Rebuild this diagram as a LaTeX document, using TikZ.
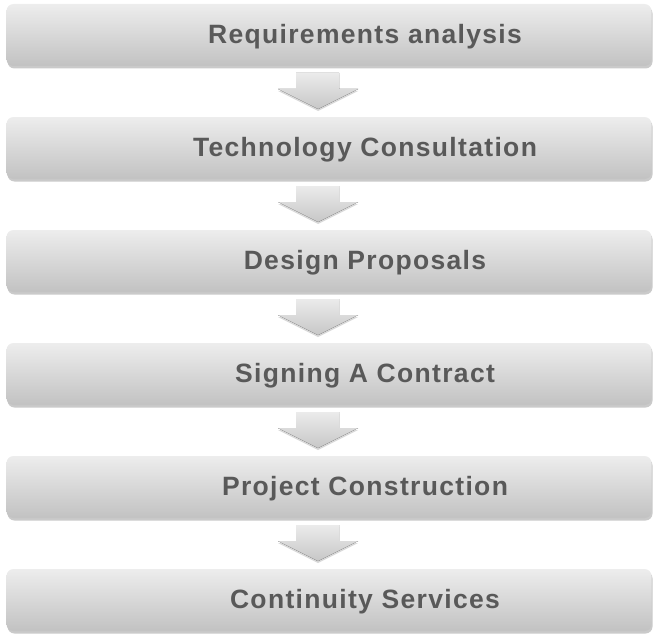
\documentclass[tikz,border=0pt]{standalone}
\usepackage{fontspec}
\setmainfont{Liberation Sans}[LetterSpace=5]
\usetikzlibrary{shadows,calc}
\definecolor{txt}{HTML}{595959}
\definecolor{boxtop}{HTML}{EDEDED}
\definecolor{boxbot}{HTML}{C2C2C2}
\tikzset{
  stepbox/.style={rounded corners=7pt, top color=boxtop, bottom color=boxbot,
    draw=none, minimum width=645pt, minimum height=62pt, inner sep=0pt,
    drop shadow={shadow xshift=1pt, shadow yshift=-2.5pt, opacity=0.35, fill=black!60}},
  steplabel/.style={font=\bfseries\fontsize{26.5}{30}\selectfont, text=txt},
  downarrow/.style={top color=white!92!black, bottom color=white!78!black, draw=none,
    drop shadow={shadow xshift=0pt, shadow yshift=-2pt, opacity=0.3, fill=black!50}}
}
\begin{document}
\begin{tikzpicture}[x=1pt,y=-1pt]
\useasboundingbox (0,0) rectangle (659,642);
\foreach \i/\t in {0/Requirements analysis,1/Technology Consultation,2/Design Proposals,3/Signing A Contract,4/Project Construction,5/Continuity Services}{
  \node[stepbox] (b\i) at (329,{35+113*\i}) {};
  \node[steplabel] (l\i) at (365,{36.5+113*\i}) {\t};
}
\foreach \i in {0,...,4}{
  \pgfmathsetmacro{\ya}{73+113*\i}
  \fill[downarrow] (296,\ya) -- (339,\ya) -- (339,\ya+16) -- (358,\ya+16) -- (318,\ya+36) -- (278,\ya+16) -- (296,\ya+16) -- cycle;
}
\end{tikzpicture}
\end{document}
